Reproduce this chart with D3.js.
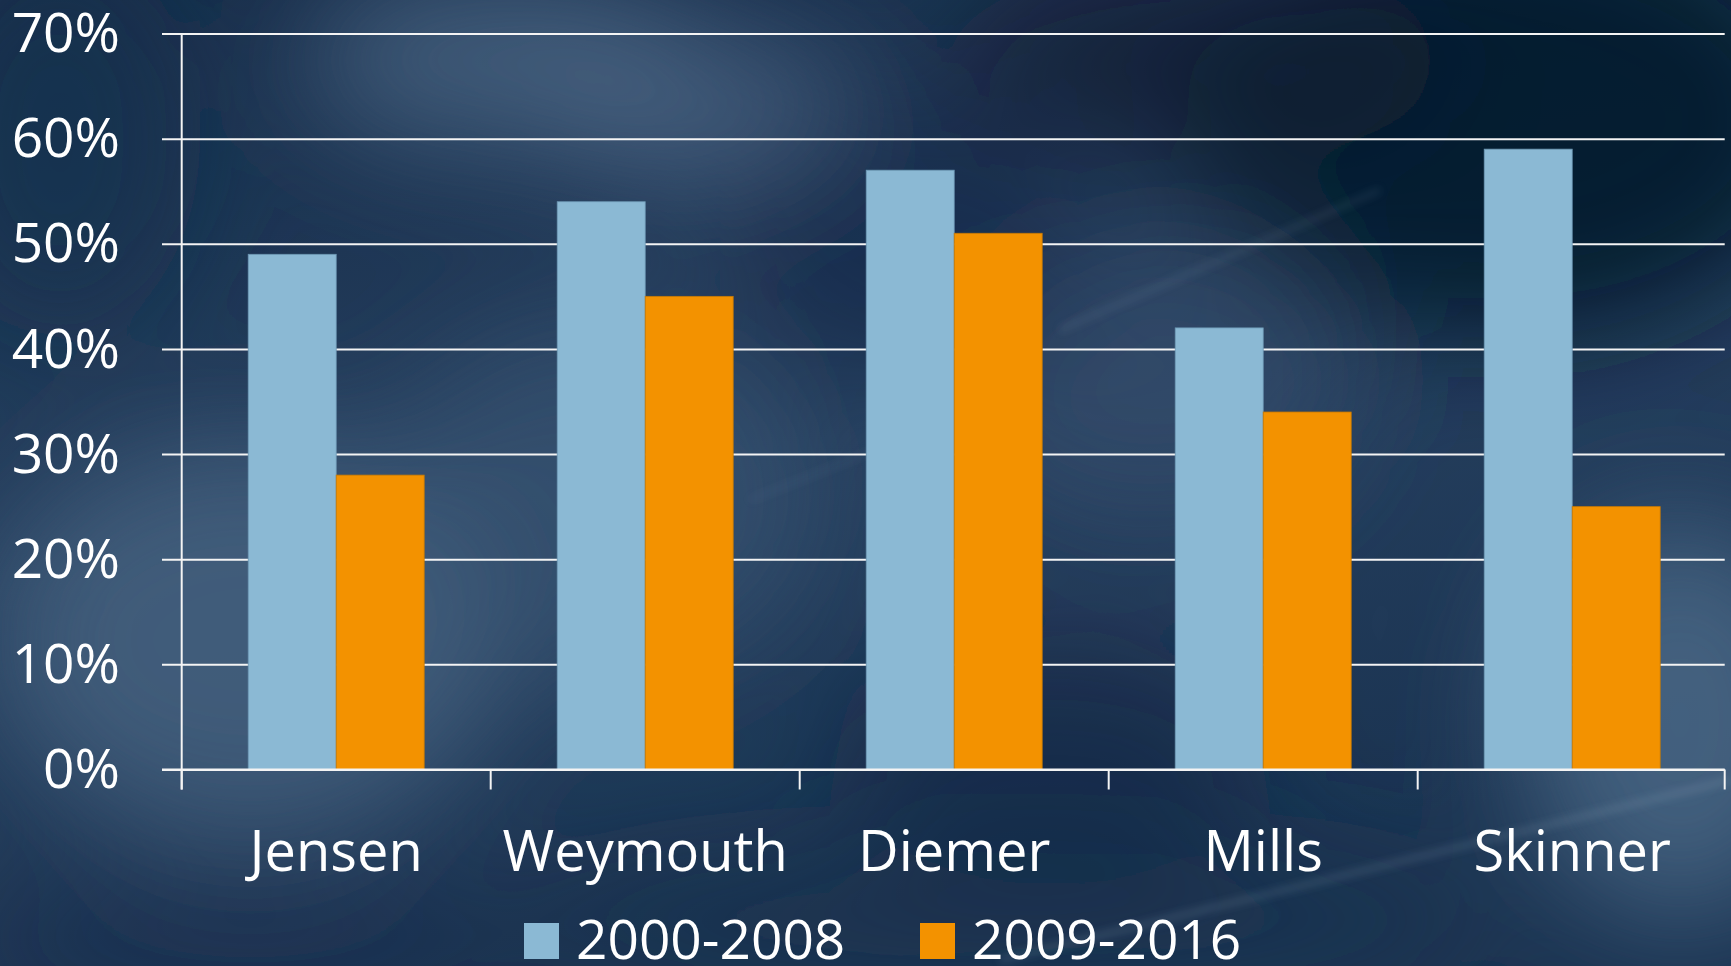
<!DOCTYPE html>
<html>
<head>
<meta charset="utf-8">
<script src="https://cdn.jsdelivr.net/npm/d3@7"></script>
<style>
  html, body { margin: 0; padding: 0; background: #1f3857; overflow: hidden; }
  svg { display: block; }
  text { font-family: "Open Sans", "Noto Sans", sans-serif; fill: #ffffff; }
</style>
</head>
<body>
<svg id="chart" width="1731" height="966"></svg>
<script>
const categories = ["Jensen", "Weymouth", "Diemer", "Mills", "Skinner"];
const seriesNames = ["2000-2008", "2009-2016"];
const series2000_2008 = [0.49, 0.54, 0.57, 0.42, 0.59];
const series2009_2016 = [0.28, 0.45, 0.51, 0.34, 0.25];
const yTicks = [0, 0.1, 0.2, 0.3, 0.4, 0.5, 0.6, 0.7];
const seriesColors = ["#8bb9d4", "#f39200"];

(function () {
const W = 1731, H = 966;
const svg = d3.select("#chart");
const defs = svg.append("defs");

// ---- background ----
const lg = defs.append("linearGradient").attr("id", "bgBase")
  .attr("x1", 0).attr("y1", 0).attr("x2", 0.3).attr("y2", 1);
lg.append("stop").attr("offset", "0%").attr("stop-color", "#172d4a");
lg.append("stop").attr("offset", "55%").attr("stop-color", "#26405f");
lg.append("stop").attr("offset", "100%").attr("stop-color", "#1b3452");
svg.append("rect").attr("width", W).attr("height", H).attr("fill", "url(#bgBase)");

defs.append("filter").attr("id", "blur").attr("x", "-50%").attr("y", "-50%")
  .attr("width", "200%").attr("height", "200%")
  .append("feGaussianBlur").attr("stdDeviation", 60);
defs.append("filter").attr("id", "blurS").attr("x", "-20%").attr("y", "-200%")
  .attr("width", "140%").attr("height", "500%")
  .append("feGaussianBlur").attr("stdDeviation", 4);

const blobs = [
  {cx: 500, cy: 60, rx: 200, ry: 90, c: "#4b6684", o: 0.8},
  {cx: 700, cy: 110, rx: 160, ry: 80, c: "#4e6a87", o: 0.7},
  {cx: 1500, cy: 120, rx: 330, ry: 220, c: "#07182b", o: 0.85},
  {cx: 1200, cy: 60, rx: 250, ry: 100, c: "#0b1d33", o: 0.7},
  {cx: 250, cy: 640, rx: 260, ry: 200, c: "#45617f", o: 0.85},
  {cx: 600, cy: 500, rx: 220, ry: 180, c: "#3c5877", o: 0.6},
  {cx: 1680, cy: 720, rx: 160, ry: 200, c: "#4d6b8a", o: 0.8},
  {cx: 1150, cy: 380, rx: 200, ry: 150, c: "#35506e", o: 0.6},
  {cx: 900, cy: 250, rx: 180, ry: 140, c: "#14294a", o: 0.6},
  {cx: 60, cy: 140, rx: 140, ry: 200, c: "#16304f", o: 0.6},
  {cx: 1000, cy: 920, rx: 500, ry: 80, c: "#1a3250", o: 0.7},
  {cx: 1050, cy: 760, rx: 220, ry: 120, c: "#0f2743", o: 0.6},
  {cx: 250, cy: 940, rx: 300, ry: 60, c: "#17304e", o: 0.7}
];
svg.append("g").attr("filter", "url(#blur)")
  .selectAll("ellipse").data(blobs).join("ellipse")
  .attr("cx", d => d.cx).attr("cy", d => d.cy)
  .attr("rx", d => d.rx).attr("ry", d => d.ry)
  .attr("fill", d => d.c).attr("opacity", d => d.o);

// faint diagonal light streaks of the backdrop
const streaks = [
  {x1: 1000, y1: 960, x2: 1731, y2: 780, w: 5, o: 0.18},
  {x1: 1060, y1: 330, x2: 1380, y2: 190, w: 4, o: 0.15},
  {x1: 750, y1: 500, x2: 1000, y2: 400, w: 3, o: 0.10}
];
svg.append("g").attr("filter", "url(#blurS)")
  .selectAll("line").data(streaks).join("line")
  .attr("x1", d => d.x1).attr("y1", d => d.y1).attr("x2", d => d.x2).attr("y2", d => d.y2)
  .attr("stroke", "#c8d8ea").attr("stroke-width", d => d.w).attr("opacity", d => d.o);

// ---- scales ----
const pLeft = 181.7, pRight = 1726.7, pTop = 33.5, pBottom = 769.5;
const x = d3.scaleBand().domain(categories).range([pLeft, pRight]).paddingInner(0).paddingOuter(0);
const x1 = d3.scaleBand().domain(seriesNames).range([0, x.bandwidth()]).paddingInner(0).paddingOuter(0.756);
const y = d3.scaleLinear().domain([0, 0.7]).range([pBottom, pTop]);

// ---- gridlines + y labels ----
const gridLeft = 162;
const yAxis = d3.axisLeft(y).tickValues(yTicks).tickFormat(d3.format(".0%"))
  .tickSize(-(pRight - 2 - gridLeft)).tickPadding(42);
const gy = svg.append("g").attr("transform", `translate(${gridLeft},0)`).call(yAxis);
gy.select(".domain").remove();
gy.selectAll(".tick line").attr("stroke", "#f4f4f4").attr("stroke-width", 2);
gy.selectAll(".tick text").attr("font-size", 55).attr("fill", "#ffffff")
  .attr("dy", "0.33em");

// ---- bars ----
const data = categories.map((c, i) => ({cat: c, vals: [series2000_2008[i], series2009_2016[i]]}));
const groups = svg.append("g").selectAll("g").data(data).join("g")
  .attr("transform", d => `translate(${x(d.cat)},0)`);
groups.selectAll("rect").data(d => d.vals.map((v, j) => ({s: seriesNames[j], v, j})))
  .join("rect")
  .attr("x", d => x1(d.s))
  .attr("width", x1.bandwidth())
  .attr("y", d => y(d.v))
  .attr("height", d => y(0) - y(d.v))
  .attr("fill", d => seriesColors[d.j])
  .attr("stroke", d => d.j === 0 ? "#6d98b4" : "#c77a05")
  .attr("stroke-width", 0.8);

// ---- axes lines ----
svg.append("line").attr("x1", pLeft).attr("x2", pLeft).attr("y1", pTop).attr("y2", pBottom + 20)
  .attr("stroke", "#f4f4f4").attr("stroke-width", 2);
svg.append("line").attr("x1", gridLeft).attr("x2", pRight - 2).attr("y1", y(0)).attr("y2", y(0))
  .attr("stroke", "#f4f4f4").attr("stroke-width", 2);

const boundaries = categories.map(c => x(c)).concat([x.range()[1] - 2]);
svg.append("g").selectAll("line").data(boundaries).join("line")
  .attr("x1", d => d).attr("x2", d => d)
  .attr("y1", y(0)).attr("y2", y(0) + 20)
  .attr("stroke", "#f4f4f4").attr("stroke-width", 2);

// category labels
const xAxis = d3.axisBottom(x).tickSize(0).tickPadding(0);
const gx = svg.append("g").attr("transform", `translate(0,${y(0)})`).call(xAxis);
gx.select(".domain").remove();
gx.selectAll(".tick text").attr("font-size", 56).attr("fill", "#ffffff")
  .attr("y", 101).attr("dy", 0);

// ---- legend ----
const legendItems = [
  {name: seriesNames[0], color: seriesColors[0], sx: 524, tx: 576},
  {name: seriesNames[1], color: seriesColors[1], sx: 920, tx: 972}
];
const lgG = svg.append("g");
lgG.selectAll("rect").data(legendItems).join("rect")
  .attr("x", d => d.sx).attr("y", 923).attr("width", 35).attr("height", 36)
  .attr("fill", d => d.color);
lgG.selectAll("text").data(legendItems).join("text")
  .attr("x", d => d.tx).attr("y", 959).attr("font-size", 55)
  .text(d => d.name);
})();
</script>
</body>
</html>
